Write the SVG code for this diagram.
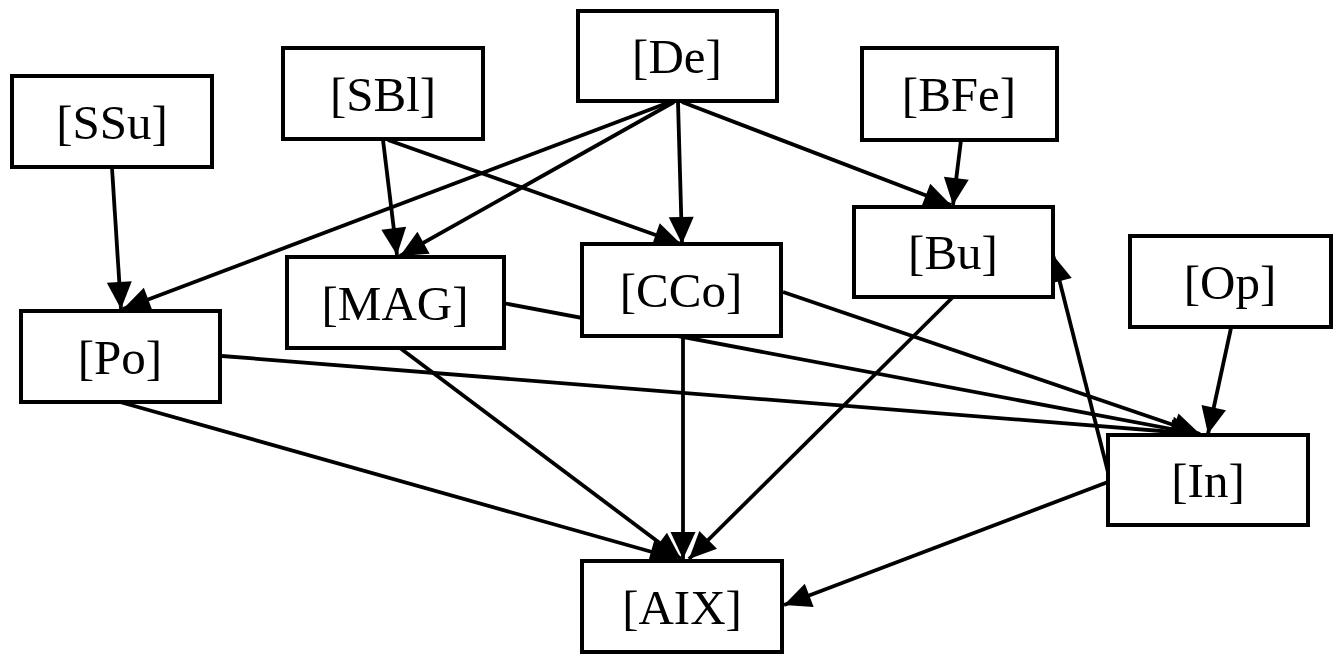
<svg xmlns="http://www.w3.org/2000/svg" width="1339" height="666" viewBox="0 0 1339 666">
<style>
.box{fill:#fff;stroke:#000;stroke-width:4}
.lbl{font-family:"Liberation Serif","Times New Roman",serif;font-size:49px;text-anchor:middle;fill:#000}
.e{fill:none;stroke:#000;stroke-width:3.8;marker-end:url(#ah)}
</style>
<defs>
<marker id="ah" markerUnits="userSpaceOnUse" markerWidth="30" markerHeight="26" refX="27" refY="12.5" orient="auto" overflow="visible">
<path d="M0,0 L27,12.5 L0,25 z" fill="#000"/>
</marker>
</defs>
<rect width="1339" height="666" fill="#fff"/>
<g id="connectors">
<path class="e" d="M112,168 L121,309"/>
<path class="e" d="M383,140 L397,255"/>
<path class="e" d="M388,140 L681,244"/>
<path class="e" d="M674,102 L400,256"/>
<path class="e" d="M670,102 L123,309"/>
<path class="e" d="M678,102 L682,244"/>
<path class="e" d="M682,102 L951,205"/>
<path class="e" d="M961,140 L953,205"/>
<path class="e" d="M1231,328 L1208,434"/>
<path class="e" d="M222,356 L1198,434"/>
<path class="e" d="M503,303 L1198,434"/>
<path class="e" d="M783,292 L1200,434"/>
<path class="e" d="M1108,472 L1053,255"/>
<path class="e" d="M1108,482 L784,605"/>
<path class="e" d="M120,402 L677,559"/>
<path class="e" d="M400,348 L681,559"/>
<path class="e" d="M683,336 L683,559"/>
<path class="e" d="M953,297 L689,559"/>
</g>
<g id="node-SSu"><rect class="box" x="12" y="76" width="200" height="91"/><text class="lbl" x="112" y="139">[SSu]</text></g>
<g id="node-SBl"><rect class="box" x="283" y="48" width="200" height="91"/><text class="lbl" x="383" y="111">[SBl]</text></g>
<g id="node-De"><rect class="box" x="578" y="11" width="199" height="90"/><text class="lbl" x="677" y="73">[De]</text></g>
<g id="node-BFe"><rect class="box" x="862" y="48" width="195" height="92"/><text class="lbl" x="959" y="111">[BFe]</text></g>
<g id="node-Po"><rect class="box" x="21" y="311" width="199" height="91"/><text class="lbl" x="120" y="374">[Po]</text></g>
<g id="node-MAG"><rect class="box" x="287" y="257" width="217" height="91"/><text class="lbl" x="395" y="320">[MAG]</text></g>
<g id="node-CCo"><rect class="box" x="582" y="244" width="199" height="92"/><text class="lbl" x="681" y="307">[CCo]</text></g>
<g id="node-Bu"><rect class="box" x="854" y="207" width="199" height="90"/><text class="lbl" x="953" y="269">[Bu]</text></g>
<g id="node-Op"><rect class="box" x="1130" y="236" width="201" height="91"/><text class="lbl" x="1230" y="299">[Op]</text></g>
<g id="node-In"><rect class="box" x="1108" y="435" width="200" height="90"/><text class="lbl" x="1208" y="497">[In]</text></g>
<g id="node-AIX"><rect class="box" x="582" y="561" width="200" height="91"/><text class="lbl" x="682" y="624">[AIX]</text></g>
</svg>
